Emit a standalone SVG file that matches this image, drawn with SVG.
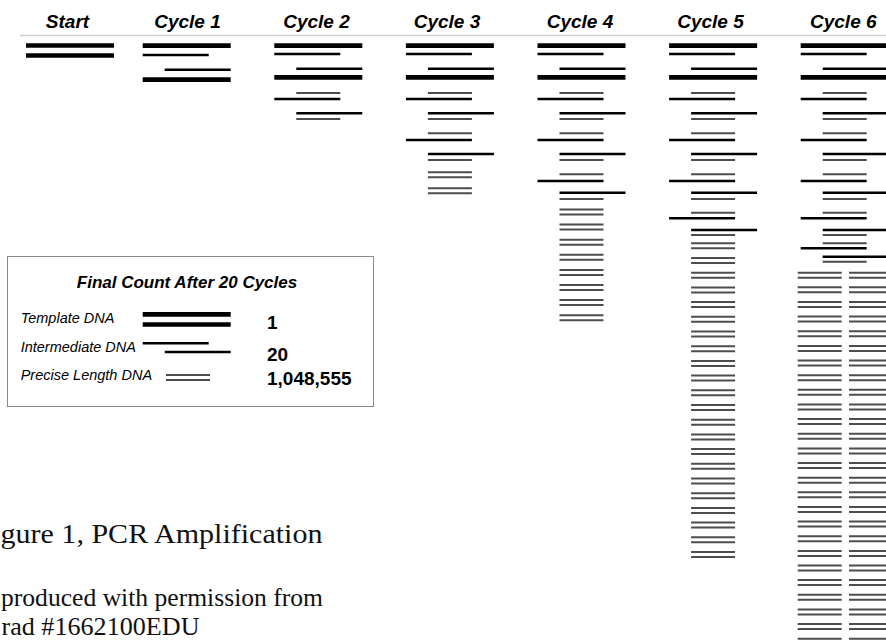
<svg xmlns="http://www.w3.org/2000/svg" xmlns:xlink="http://www.w3.org/1999/xlink" width="886" height="641" viewBox="0 0 886 641">
<style>
.hd{font-family:"Liberation Sans",Arial,sans-serif;font-weight:bold;font-style:italic;font-size:19px;fill:#000;text-anchor:middle}
.lt{font-family:"Liberation Sans",Arial,sans-serif;font-weight:bold;font-style:italic;font-size:17px;fill:#000;text-anchor:middle}
.lb{font-family:"Liberation Sans",Arial,sans-serif;font-style:italic;font-size:14.5px;fill:#000}
.num{font-family:"Liberation Sans",Arial,sans-serif;font-weight:bold;font-size:19px;fill:#000}
.cap{font-family:"Liberation Serif","Times New Roman",serif;fill:#111}
</style>
<defs>
<line id="T" x1="0" x2="88" y1="0" y2="0" stroke="#000" stroke-width="4.7"/>
<line id="IL" x1="0" x2="66" y1="0" y2="0" stroke="#000" stroke-width="2.5"/>
<line id="IR" x1="22" x2="88" y1="0" y2="0" stroke="#000" stroke-width="2.5"/>
<line id="P" x1="22" x2="66" y1="0" y2="0" stroke="#4d4d4d" stroke-width="2"/>
<g id="PP"><use href="#P"/><use href="#P" y="5"/></g>
<g id="PP2"><use href="#PP" x="-25"/><use href="#PP" x="26.3"/></g>
<g id="R01"><use href="#T" y="45.7"/><use href="#IL" y="54"/><use href="#IR" y="68.7"/><use href="#T" y="77.3"/></g>
<g id="R23"><use href="#P" y="93"/><use href="#IL" y="99"/><use href="#IR" y="113.3"/><use href="#P" y="119"/></g>
<g id="R45"><use href="#P" y="133.3"/><use href="#IL" y="140"/><use href="#IR" y="154"/><use href="#P" y="160"/></g>
<g id="R67"><use href="#P" y="174.3"/><use href="#IL" y="181"/><use href="#IR" y="192.7"/><use href="#P" y="199"/></g>
<g id="R89"><use href="#P" y="212.7"/><use href="#IL" y="218.3"/><use href="#IR" y="230"/><use href="#P" y="235"/></g>
<g id="R1011"><use href="#P" y="243.3"/><use href="#IL" y="248.3"/><use href="#IR" y="256.7"/><use href="#P" y="261.7"/></g>
</defs>
<rect width="886" height="641" fill="#fff"/>

<g id="header">
<line x1="20" y1="35.6" x2="886" y2="35.6" stroke="#cfcfcf" stroke-width="1.5"/>
<text class="hd" x="67.5" y="27.7">Start</text>
<text class="hd" x="187.5" y="27.7">Cycle 1</text>
<text class="hd" x="316.5" y="27.7">Cycle 2</text>
<text class="hd" x="447" y="27.7">Cycle 3</text>
<text class="hd" x="580" y="27.7">Cycle 4</text>
<text class="hd" x="710.5" y="27.7">Cycle 5</text>
<text class="hd" x="843.3" y="27.7">Cycle 6</text>
</g>

<g id="col-start" transform="translate(26,0)">
<use href="#T" y="45.5"/><use href="#T" y="55.5"/>
</g>

<g id="col-cycle1" transform="translate(142.7,0)">
<use href="#T" y="45.7"/><use href="#IL" y="55"/><use href="#IR" y="69.7"/><use href="#T" y="79.7"/>
</g>

<g id="col-cycle2" transform="translate(274.3,0)">
<use href="#R01"/><use href="#R23"/>
</g>

<g id="col-cycle3" transform="translate(405.9,0)">
<use href="#R01"/><use href="#R23"/><use href="#R45"/>
<use href="#PP" y="172.2"/><use href="#PP" y="188.2"/>
</g>

<g id="col-cycle4" transform="translate(537.5,0)">
<use href="#R01"/><use href="#R23"/><use href="#R45"/><use href="#R67"/>
<use href="#PP" y="209.5"/><use href="#PP" y="224.6"/><use href="#PP" y="239.7"/><use href="#PP" y="254.8"/>
<use href="#PP" y="269.9"/><use href="#PP" y="285"/><use href="#PP" y="300.1"/><use href="#PP" y="315.2"/>
</g>

<g id="col-cycle5" transform="translate(669.1,0)">
<use href="#R01"/><use href="#R23"/><use href="#R45"/><use href="#R67"/><use href="#R89"/>
<use href="#PP" y="243.3"/><use href="#PP" y="258"/><use href="#PP" y="272.7"/><use href="#PP" y="287.4"/>
<use href="#PP" y="302.1"/><use href="#PP" y="316.8"/><use href="#PP" y="331.5"/><use href="#PP" y="346.2"/>
<use href="#PP" y="360.9"/><use href="#PP" y="375.6"/><use href="#PP" y="390.3"/><use href="#PP" y="405"/>
<use href="#PP" y="419.7"/><use href="#PP" y="434.4"/><use href="#PP" y="449.1"/><use href="#PP" y="463.8"/>
<use href="#PP" y="478.5"/><use href="#PP" y="493.2"/><use href="#PP" y="507.9"/><use href="#PP" y="522.6"/>
<use href="#PP" y="537.3"/><use href="#PP" y="552"/>
</g>

<g id="col-cycle6" transform="translate(800.7,0)">
<use href="#R01"/><use href="#R23"/><use href="#R45"/><use href="#R67"/><use href="#R89"/><use href="#R1011"/>
<use href="#PP2" y="272.7"/><use href="#PP2" y="287.3"/><use href="#PP2" y="302"/><use href="#PP2" y="316.6"/>
<use href="#PP2" y="331.3"/><use href="#PP2" y="345.9"/><use href="#PP2" y="360.5"/><use href="#PP2" y="375.2"/>
<use href="#PP2" y="389.8"/><use href="#PP2" y="404.5"/><use href="#PP2" y="419.1"/><use href="#PP2" y="433.7"/>
<use href="#PP2" y="448.4"/><use href="#PP2" y="463"/><use href="#PP2" y="477.7"/><use href="#PP2" y="492.3"/>
<use href="#PP2" y="506.9"/><use href="#PP2" y="521.6"/><use href="#PP2" y="536.2"/><use href="#PP2" y="550.9"/>
<use href="#PP2" y="565.5"/><use href="#PP2" y="580.1"/><use href="#PP2" y="594.8"/><use href="#PP2" y="609.4"/>
<use href="#PP2" y="624.1"/><use href="#PP2" y="638.7"/>
</g>

<g id="legend">
<rect x="7.5" y="256.5" width="366" height="150" fill="#fff" stroke="#8a8a8a" stroke-width="1"/>
<text class="lt" x="187" y="288.3">Final Count After 20 Cycles</text>
<text class="lb" x="20.7" y="322.7">Template DNA</text>
<text class="lb" x="20.7" y="351.7">Intermediate DNA</text>
<text class="lb" x="20.7" y="380">Precise Length DNA</text>
<use href="#T" x="142.7" y="314.3"/><use href="#T" x="142.7" y="324.5"/>
<use href="#IL" x="142.7" y="343.3"/><use href="#IR" x="142.7" y="352"/>
<use href="#PP" x="144" y="375"/>
<text class="num" x="267" y="329.3">1</text>
<text class="num" x="267" y="361">20</text>
<text class="num" x="267" y="384.5">1,048,555</text>
</g>

<g id="caption">
<text class="cap" x="0.5" y="543.3" font-size="28" textLength="322" lengthAdjust="spacingAndGlyphs">gure 1, PCR Amplification</text>
<text class="cap" x="1" y="606.2" font-size="26" textLength="322" lengthAdjust="spacingAndGlyphs">produced with permission from</text>
<text class="cap" x="1.5" y="634.8" font-size="25.5" textLength="198" lengthAdjust="spacingAndGlyphs">rad #1662100EDU</text>
</g>
</svg>
